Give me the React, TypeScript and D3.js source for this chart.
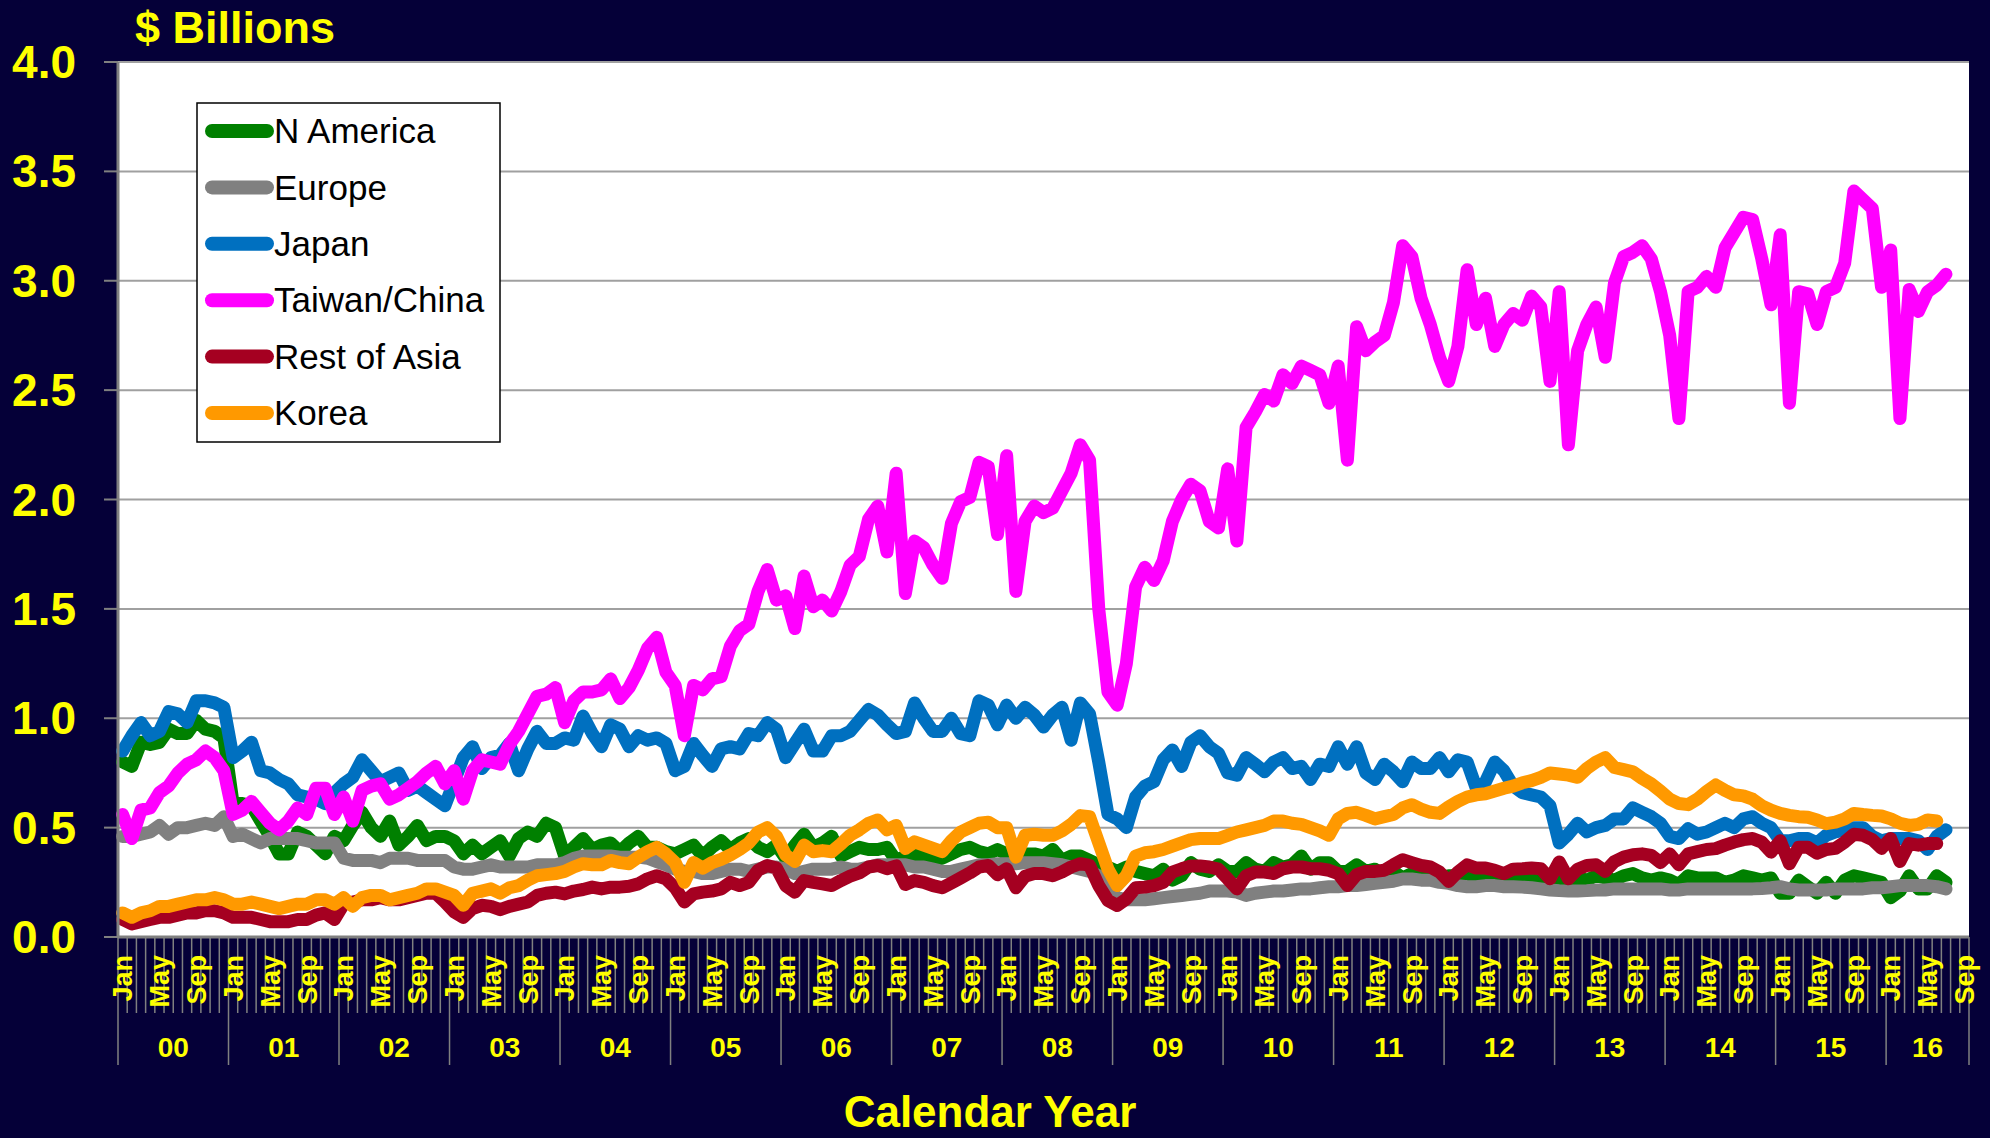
import React from "react";
import * as d3 from "d3";

// monthly billings, $ billions, Jan 2000 onwards (one row per year)
const nAmerica = [
  0.80, 0.78, 0.89, 0.88, 0.89, 0.95, 0.93, 0.93, 0.99, 0.95, 0.94, 0.91,
  0.61, 0.61, 0.60, 0.53, 0.46, 0.38, 0.38, 0.48, 0.46, 0.42, 0.38, 0.46,
  0.44, 0.51, 0.57, 0.50, 0.46, 0.53, 0.42, 0.46, 0.51, 0.44, 0.46, 0.46,
  0.44, 0.38, 0.42, 0.38, 0.41, 0.44, 0.37, 0.45, 0.48, 0.46, 0.52, 0.50,
  0.37, 0.41, 0.45, 0.40, 0.42, 0.43, 0.39, 0.43, 0.46, 0.41, 0.41, 0.39,
  0.38, 0.40, 0.42, 0.37, 0.41, 0.44, 0.40, 0.43, 0.45, 0.41, 0.39, 0.42,
  0.36, 0.42, 0.47, 0.41, 0.43, 0.46, 0.37, 0.39, 0.41, 0.40, 0.40, 0.41,
  0.35, 0.37, 0.38, 0.37, 0.35, 0.36, 0.38, 0.40, 0.41, 0.39, 0.38, 0.40,
  0.38, 0.35, 0.38, 0.38, 0.37, 0.40, 0.35, 0.37, 0.37, 0.35, 0.33, 0.32,
  0.30, 0.32, 0.30, 0.29, 0.28, 0.31, 0.26, 0.28, 0.34, 0.31, 0.30, 0.33,
  0.30, 0.30, 0.34, 0.31, 0.30, 0.34, 0.32, 0.33, 0.37, 0.31, 0.34, 0.34,
  0.30, 0.30, 0.33, 0.30, 0.31, 0.28, 0.30, 0.27, 0.29, 0.28, 0.29, 0.27,
  0.28, 0.28, 0.29, 0.27, 0.28, 0.27, 0.28, 0.27, 0.26, 0.28, 0.26, 0.27,
  0.26, 0.25, 0.27, 0.26, 0.28, 0.27, 0.26, 0.28, 0.29, 0.27, 0.26, 0.27,
  0.26, 0.24, 0.28, 0.27, 0.27, 0.27, 0.25, 0.26, 0.28, 0.27, 0.26, 0.27,
  0.20, 0.20, 0.26, 0.23, 0.20, 0.25, 0.20, 0.26, 0.28, 0.27, 0.26, 0.25,
  0.18, 0.21, 0.28, 0.22, 0.22, 0.28, 0.25,
];

const europe = [
  0.46, 0.46, 0.47, 0.48, 0.51, 0.47, 0.50, 0.50, 0.51, 0.52, 0.51, 0.55,
  0.46, 0.47, 0.45, 0.43, 0.45, 0.45, 0.45, 0.45, 0.44, 0.43, 0.43, 0.43,
  0.36, 0.35, 0.35, 0.35, 0.34, 0.36, 0.36, 0.36, 0.35, 0.35, 0.35, 0.35,
  0.32, 0.31, 0.31, 0.32, 0.33, 0.32, 0.32, 0.32, 0.32, 0.33, 0.33, 0.33,
  0.34, 0.36, 0.37, 0.37, 0.37, 0.37, 0.365, 0.365, 0.365, 0.36, 0.345, 0.33,
  0.31, 0.30, 0.30, 0.29, 0.29, 0.30, 0.31, 0.31, 0.30, 0.31, 0.32, 0.32,
  0.31, 0.29, 0.30, 0.31, 0.31, 0.31, 0.32, 0.31, 0.31, 0.32, 0.33, 0.33,
  0.33, 0.33, 0.32, 0.32, 0.31, 0.30, 0.30, 0.31, 0.32, 0.33, 0.33, 0.335,
  0.335, 0.335, 0.34, 0.34, 0.34, 0.335, 0.33, 0.32, 0.31, 0.30, 0.28, 0.22,
  0.18, 0.17, 0.17, 0.17, 0.175, 0.18, 0.185, 0.19, 0.195, 0.20, 0.21, 0.21,
  0.21, 0.205, 0.19, 0.20, 0.205, 0.21, 0.21, 0.215, 0.22, 0.22, 0.225, 0.23,
  0.23, 0.235, 0.235, 0.24, 0.245, 0.25, 0.255, 0.265, 0.265, 0.26, 0.26, 0.25,
  0.245, 0.235, 0.23, 0.23, 0.235, 0.235, 0.23, 0.23, 0.228, 0.225, 0.22, 0.215,
  0.212, 0.21, 0.21, 0.212, 0.215, 0.215, 0.22, 0.22, 0.22, 0.22, 0.22, 0.22,
  0.215, 0.215, 0.22, 0.22, 0.22, 0.22, 0.22, 0.22, 0.22, 0.22, 0.222, 0.225,
  0.23, 0.22, 0.215, 0.215, 0.215, 0.215, 0.22, 0.22, 0.22, 0.22, 0.225, 0.225,
  0.23, 0.235, 0.235, 0.235, 0.235, 0.23, 0.22,
];

const japan = [
  0.85, 0.92, 0.98, 0.92, 0.94, 1.03, 1.02, 0.98, 1.08, 1.08, 1.07, 1.05,
  0.82, 0.85, 0.89, 0.76, 0.75, 0.72, 0.70, 0.65, 0.64, 0.63, 0.61, 0.66,
  0.70, 0.73, 0.81, 0.76, 0.71, 0.73, 0.75, 0.67, 0.69, 0.66, 0.63, 0.60,
  0.71, 0.82, 0.87, 0.77, 0.82, 0.83, 0.885, 0.76, 0.86, 0.94, 0.885, 0.885,
  0.91, 0.90, 1.01, 0.93, 0.87, 0.97, 0.95, 0.87, 0.92, 0.90, 0.91, 0.885,
  0.76, 0.78, 0.885, 0.83, 0.78, 0.86, 0.87, 0.86, 0.93, 0.92, 0.98, 0.95,
  0.82, 0.885, 0.95, 0.85, 0.85, 0.92, 0.92, 0.94, 0.99, 1.04, 1.015, 0.97,
  0.93, 0.94, 1.07, 1.00, 0.94, 0.94, 1.00, 0.93, 0.92, 1.08, 1.06, 0.97,
  1.06, 1.00, 1.05, 1.015, 0.96, 1.015, 1.05, 0.90, 1.07, 1.02, 0.80, 0.56,
  0.54, 0.50, 0.64, 0.69, 0.71, 0.81, 0.855, 0.78, 0.89, 0.92, 0.87, 0.84,
  0.75, 0.74, 0.82, 0.79, 0.755, 0.80, 0.82, 0.77, 0.78, 0.72, 0.79, 0.78,
  0.87, 0.79, 0.87, 0.75, 0.72, 0.79, 0.755, 0.71, 0.80, 0.77, 0.77, 0.82,
  0.755, 0.81, 0.80, 0.68, 0.71, 0.80, 0.76, 0.69, 0.66, 0.65, 0.64, 0.60,
  0.43, 0.47, 0.52, 0.48, 0.50, 0.51, 0.54, 0.54, 0.59, 0.57, 0.55, 0.52,
  0.46, 0.45, 0.495, 0.47, 0.48, 0.50, 0.52, 0.50, 0.54, 0.55, 0.52, 0.50,
  0.44, 0.44, 0.45, 0.45, 0.43, 0.465, 0.48, 0.49, 0.50, 0.50, 0.46, 0.44,
  0.45, 0.45, 0.45, 0.44, 0.40, 0.46, 0.49,
];

const taiwanChina = [
  0.56, 0.45, 0.58, 0.59, 0.66, 0.69, 0.75, 0.79, 0.81, 0.85, 0.82, 0.76,
  0.56, 0.58, 0.62, 0.57, 0.52, 0.49, 0.53, 0.59, 0.56, 0.68, 0.68, 0.56,
  0.64, 0.53, 0.67, 0.69, 0.70, 0.63, 0.65, 0.68, 0.71, 0.75, 0.78, 0.70,
  0.76, 0.63, 0.76, 0.81, 0.80, 0.79, 0.88, 0.94, 1.02, 1.10, 1.11, 1.14,
  0.98, 1.08, 1.12, 1.12, 1.13, 1.18, 1.09, 1.14, 1.22, 1.32, 1.37, 1.21,
  1.15, 0.92, 1.15, 1.13, 1.18, 1.19, 1.33, 1.40, 1.43, 1.58, 1.68, 1.54,
  1.56, 1.41, 1.65, 1.51, 1.54, 1.49, 1.58, 1.70, 1.74, 1.91, 1.97, 1.76,
  2.12, 1.57, 1.81, 1.78, 1.70, 1.64, 1.89, 1.99, 2.01, 2.17, 2.15, 1.84,
  2.20, 1.58, 1.90, 1.97, 1.94, 1.96, 2.04, 2.12, 2.25, 2.18, 1.50, 1.12,
  1.06, 1.25, 1.60, 1.69, 1.63, 1.72, 1.90, 2.00, 2.07, 2.04, 1.90, 1.87,
  2.14, 1.81, 2.33, 2.40, 2.48, 2.45, 2.57, 2.53, 2.61, 2.59, 2.57, 2.44,
  2.61, 2.18, 2.79, 2.68, 2.72, 2.75, 2.90, 3.16, 3.11, 2.92, 2.80, 2.65,
  2.54, 2.70, 3.05, 2.80, 2.92, 2.70, 2.80, 2.85, 2.82, 2.93, 2.88, 2.54,
  2.95, 2.25, 2.68, 2.80, 2.88, 2.65, 2.99, 3.11, 3.13, 3.16, 3.10, 2.95,
  2.75, 2.37, 2.95, 2.97, 3.02, 2.97, 3.15, 3.22, 3.29, 3.28, 3.10, 2.89,
  3.21, 2.44, 2.95, 2.94, 2.80, 2.95, 2.97, 3.08, 3.41, 3.37, 3.33, 2.97,
  3.14, 2.37, 2.96, 2.86, 2.95, 2.98, 3.03,
];

const restOfAsia = [
  0.08, 0.06, 0.07, 0.08, 0.09, 0.09, 0.10, 0.11, 0.11, 0.12, 0.12, 0.11,
  0.09, 0.09, 0.09, 0.08, 0.07, 0.07, 0.07, 0.08, 0.08, 0.10, 0.11, 0.08,
  0.15, 0.16, 0.17, 0.17, 0.18, 0.17, 0.17, 0.18, 0.19, 0.20, 0.20, 0.16,
  0.115, 0.09, 0.13, 0.145, 0.14, 0.125, 0.14, 0.15, 0.16, 0.19, 0.20, 0.205,
  0.197, 0.21, 0.217, 0.228, 0.22, 0.228, 0.228, 0.232, 0.243, 0.266, 0.28, 0.266,
  0.225, 0.16, 0.197, 0.205, 0.21, 0.22, 0.25, 0.235, 0.25, 0.305, 0.327, 0.315,
  0.235, 0.205, 0.258, 0.25, 0.243, 0.235, 0.258, 0.278, 0.293, 0.32, 0.327, 0.312,
  0.325, 0.24, 0.258, 0.25, 0.235, 0.225, 0.247, 0.27, 0.293, 0.32, 0.327, 0.285,
  0.312, 0.225, 0.278, 0.29, 0.29, 0.28, 0.297, 0.32, 0.335, 0.327, 0.235, 0.167,
  0.144, 0.174, 0.225, 0.228, 0.235, 0.25, 0.297, 0.312, 0.325, 0.325, 0.32, 0.31,
  0.266, 0.22, 0.28, 0.297, 0.297, 0.29, 0.312, 0.32, 0.32, 0.312, 0.312, 0.305,
  0.29, 0.235, 0.285, 0.30, 0.30, 0.305, 0.33, 0.353, 0.34, 0.327, 0.32, 0.297,
  0.254, 0.297, 0.33, 0.315, 0.315, 0.305, 0.29, 0.31, 0.312, 0.315, 0.312, 0.266,
  0.343, 0.266, 0.31, 0.327, 0.33, 0.30, 0.345, 0.365, 0.376, 0.38, 0.373, 0.34,
  0.38, 0.33, 0.38, 0.39, 0.40, 0.404, 0.42, 0.434, 0.445, 0.45, 0.434, 0.388,
  0.44, 0.335, 0.41, 0.41, 0.383, 0.40, 0.405, 0.434, 0.47, 0.465, 0.445, 0.405,
  0.45, 0.345, 0.427, 0.42, 0.427, 0.427,
];

const korea = [
  0.11, 0.09, 0.11, 0.12, 0.14, 0.14, 0.15, 0.16, 0.17, 0.17, 0.18, 0.17,
  0.15, 0.15, 0.16, 0.15, 0.14, 0.13, 0.14, 0.15, 0.15, 0.17, 0.17, 0.15,
  0.18, 0.14, 0.18, 0.19, 0.19, 0.17, 0.18, 0.19, 0.20, 0.22, 0.22, 0.205,
  0.19, 0.145, 0.20, 0.21, 0.22, 0.20, 0.225, 0.235, 0.26, 0.28, 0.285, 0.29,
  0.30, 0.32, 0.335, 0.33, 0.33, 0.35, 0.34, 0.335, 0.365, 0.39, 0.41, 0.38,
  0.34, 0.25, 0.34, 0.315, 0.34, 0.355, 0.375, 0.40, 0.43, 0.48, 0.50, 0.46,
  0.375, 0.345, 0.42, 0.39, 0.395, 0.39, 0.425, 0.465, 0.49, 0.52, 0.535, 0.49,
  0.51, 0.405, 0.435, 0.42, 0.405, 0.39, 0.44, 0.48, 0.50, 0.52, 0.525, 0.50,
  0.50, 0.365, 0.465, 0.47, 0.465, 0.465, 0.485, 0.515, 0.555, 0.55, 0.43, 0.31,
  0.235, 0.28, 0.37, 0.385, 0.39, 0.40, 0.415, 0.43, 0.445, 0.45, 0.45, 0.45,
  0.465, 0.48, 0.49, 0.50, 0.51, 0.53, 0.53, 0.52, 0.515, 0.50, 0.485, 0.465,
  0.54, 0.565, 0.57, 0.556, 0.54, 0.55, 0.56, 0.59, 0.605, 0.585, 0.57, 0.565,
  0.595, 0.62, 0.64, 0.65, 0.655, 0.667, 0.68, 0.69, 0.705, 0.715, 0.73, 0.75,
  0.745, 0.74, 0.73, 0.77, 0.80, 0.82, 0.775, 0.765, 0.755, 0.725, 0.70, 0.667,
  0.63, 0.61, 0.605, 0.63, 0.665, 0.695, 0.67, 0.65, 0.645, 0.63, 0.60, 0.58,
  0.565, 0.556, 0.55, 0.547, 0.535, 0.518, 0.525, 0.54, 0.565, 0.56, 0.556, 0.553,
  0.54, 0.52, 0.51, 0.515, 0.535, 0.53,
];

const seriesNames = ["N America", "Europe", "Japan", "Taiwan/China", "Rest of Asia", "Korea"];
const seriesColors = ["#008000", "#808080", "#0070C0", "#FF00FF", "#A50021", "#FF9900"];
const seriesValues = [nAmerica, europe, japan, taiwanChina, restOfAsia, korea];
const yTicks = [0, 0.5, 1, 1.5, 2, 2.5, 3, 3.5, 4];
const monthTickLabels = ["Jan", "May", "Sep"];

// category axis runs Jan 2000 .. Sep 2016
const months = d3.timeMonth.range(new Date(2000, 0, 1), new Date(2016, 9, 1));

const W = 1990;
const H = 1138;
const plot = { left: 118, right: 1969, top: 62, bottom: 937 };
const yellow = "#FFFF00";
const navy = "#050038";
const font = "'Liberation Sans', Arial, Helvetica, sans-serif";

const App = () => {
  const x = d3
    .scaleBand<number>()
    .domain(months.map((_, i) => i))
    .range([plot.left, plot.right]);
  const bw = x.bandwidth();
  const cx = (i: number) => (x(i) as number) + bw / 2;

  const y = d3.scaleLinear().domain([0, 4]).range([plot.bottom, plot.top]);

  const line = d3
    .line<number>()
    .x((_, i) => cx(i))
    .y((d) => y(d));

  const fmtMonth = d3.timeFormat("%b");
  const fmtYear = d3.timeFormat("%y");

  // year groups for the second label row
  const years = d3.groups(
    months.map((m, i) => ({ m, i })),
    (d) => d.m.getFullYear()
  );

  return (
    <div>
      <style>{"body{margin:0;background:" + navy + ";}"}</style>
      <svg width={W} height={H} style={{ display: "block", fontFamily: font }}>
        <rect x={0} y={0} width={W} height={H} fill={navy} />
        <rect
          x={plot.left}
          y={plot.top}
          width={plot.right - plot.left}
          height={plot.bottom - plot.top}
          fill="#ffffff"
        />

        {/* gridlines + y ticks */}
        {yTicks.map((t) => (
          <g key={t}>
            {t > 0 && (
              <line
                x1={plot.left}
                x2={plot.right}
                y1={y(t)}
                y2={y(t)}
                stroke="#a0a0a0"
                strokeWidth={2}
              />
            )}
            <line x1={104} x2={plot.left} y1={y(t)} y2={y(t)} stroke="#808080" strokeWidth={2} />
            <text
              x={76}
              y={y(t)}
              dy="0.35em"
              textAnchor="end"
              fill={yellow}
              fontWeight="bold"
              fontSize={46}
            >
              {t.toFixed(1)}
            </text>
          </g>
        ))}

        {/* series, legend order = drawing order */}
        {seriesValues.map((vals, k) => (
          <path
            key={seriesNames[k]}
            d={line(vals) || ""}
            fill="none"
            stroke={seriesColors[k]}
            strokeWidth={13}
            strokeLinejoin="round"
            strokeLinecap="round"
          />
        ))}

        {/* axes lines */}
        <line x1={plot.left} x2={plot.left} y1={plot.top} y2={plot.bottom} stroke="#808080" strokeWidth={3} />
        <line x1={plot.left} x2={plot.right} y1={plot.bottom} y2={plot.bottom} stroke="#808080" strokeWidth={3} />

        {/* month ticks */}
        {d3.range(months.length + 1).map((i) => {
          const xx = plot.left + i * bw;
          const long = i % 12 === 0 || i === months.length;
          return (
            <line
              key={"t" + i}
              x1={xx}
              x2={xx}
              y1={plot.bottom}
              y2={long ? 1065 : 1013}
              stroke="#808080"
              strokeWidth={1.5}
            />
          );
        })}

        {/* Jan / May / Sep labels */}
        {months.map((m, i) =>
          monthTickLabels.includes(fmtMonth(m)) ? (
            <text
              key={"m" + i}
              transform={`translate(${cx(i)},955) rotate(-90)`}
              textAnchor="end"
              dy="0.36em"
              fill={yellow}
              fontWeight="bold"
              fontSize={27}
            >
              {fmtMonth(m)}
            </text>
          ) : null
        )}

        {/* year labels */}
        {years.map(([yr, ms]) => {
          const first = ms[0].i;
          const last = ms[ms.length - 1].i;
          const mid = (plot.left + first * bw + plot.left + (last + 1) * bw) / 2;
          return (
            <text
              key={"y" + yr}
              x={mid}
              y={1047}
              dy="0.35em"
              textAnchor="middle"
              fill={yellow}
              fontWeight="bold"
              fontSize={28}
            >
              {fmtYear(ms[0].m)}
            </text>
          );
        })}

        {/* titles */}
        <text x={135} y={43} fill={yellow} fontWeight="bold" fontSize={45}>
          $ Billions
        </text>
        <text x={990} y={1127} textAnchor="middle" fill={yellow} fontWeight="bold" fontSize={44}>
          Calendar Year
        </text>

        {/* legend */}
        <g>
          <rect x={197} y={103} width={303} height={339} fill="#ffffff" stroke="#000000" strokeWidth={1.5} />
          {seriesNames.map((name, k) => {
            const ry = 131 + k * 56.4;
            return (
              <g key={"lg" + name}>
                <line
                  x1={212}
                  x2={267}
                  y1={ry}
                  y2={ry}
                  stroke={seriesColors[k]}
                  strokeWidth={14}
                  strokeLinecap="round"
                />
                <text x={274} y={ry} dy="0.35em" fontSize={35} fill="#000000">
                  {name}
                </text>
              </g>
            );
          })}
        </g>
      </svg>
    </div>
  );
};

export default App;
